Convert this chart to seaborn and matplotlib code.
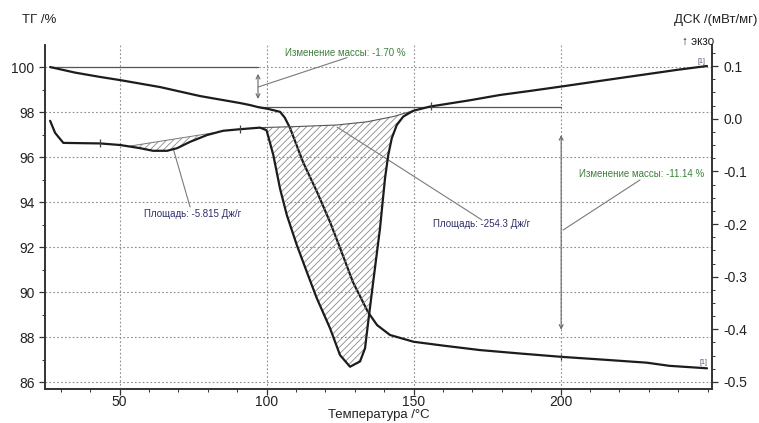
import numpy as np
import pandas as pd
import matplotlib
matplotlib.use("Agg")
import matplotlib.pyplot as plt
import seaborn as sns

# ---------------- data ----------------
tg_T = [26.4, 35.0, 43.4, 50.2, 63.8, 77.4, 91.0, 94.4, 97.1, 100.5, 104.6, 106.2,
        108.0, 112.4, 117.2, 121.6, 125.0, 129.4, 134.5, 137.6, 142.0, 150.0,
        160.0, 172.6, 186.0, 200.2, 215.0, 229.3, 237.0, 249.8]
tg_val = [100.0, 99.75, 99.56, 99.42, 99.11, 98.71, 98.40, 98.31, 98.22, 98.14,
          98.01, 97.75, 97.29, 95.78, 94.44, 93.11, 91.96, 90.44, 89.11, 88.53,
          88.09, 87.79, 87.62, 87.42, 87.27, 87.12, 86.99, 86.86, 86.72, 86.61]

dsc_T = [26.4, 28.1, 30.9, 43.4, 50.2, 57.0, 61.4, 66.2, 69.6, 74.0, 79.8, 85.2,
         91.0, 97.8, 100.0, 100.6, 102.3, 104.6, 106.9, 110.3, 113.7, 117.1,
         121.6, 125.0, 128.4, 131.8, 133.5, 134.6, 136.3, 138.6, 140.3, 141.4,
         142.6, 144.3, 146.5, 149.9, 155.6, 169.2, 179.4, 190.0, 200.2, 215.0,
         230.0, 240.0, 249.8]
dsc_val = [-0.004, -0.027, -0.046, -0.047, -0.050, -0.056, -0.061, -0.061, -0.056,
           -0.044, -0.031, -0.023, -0.020, -0.017, -0.022, -0.034, -0.069, -0.133,
           -0.183, -0.240, -0.291, -0.341, -0.398, -0.449, -0.471, -0.461, -0.436,
           -0.385, -0.309, -0.208, -0.113, -0.069, -0.037, -0.012, 0.004, 0.015,
           0.023, 0.035, 0.045, 0.053, 0.061, 0.073, 0.085, 0.093, 0.100]

# integration baselines
small_base_T = [53.6, 81.8]
small_base_val = [-0.052, -0.027]
big_base_T = [97.8, 110.0, 123.9, 134.1, 143.1, 149.9]
big_base_val = [-0.017, -0.015, -0.012, -0.006, 0.004, 0.015]

mass_change_1 = "Изменение массы: -1.70 %"
mass_change_2 = "Изменение массы: -11.14 %"
area_1 = "Площадь: -5.815 Дж/г"
area_2 = "Площадь: -254.3 Дж/г"

x_ticks = [50, 100, 150, 200]
tg_ticks = [86, 88, 90, 92, 94, 96, 98, 100]
dsc_ticks = [-0.5, -0.4, -0.3, -0.2, -0.1, 0.0, 0.1]

# ---------------- style ----------------
sns.set_theme(style="ticks")
plt.rcParams['font.family'] = ['Liberation Sans', 'DejaVu Sans']
plt.rcParams['hatch.color'] = '#8a8a8a'
plt.rcParams['hatch.linewidth'] = 0.6

W, H = 759, 423
fig = plt.figure(figsize=(W / 100, H / 100), dpi=100)
ax = fig.add_axes([45 / W, 1 - 389 / H, (712 - 45) / W, (389 - 45) / H])
ax2 = ax.twinx()

line_col = '#1c1c1c'
df_tg = pd.DataFrame({'T': tg_T, 'v': tg_val})
df_dsc = pd.DataFrame({'T': dsc_T, 'v': dsc_val})
sns.lineplot(data=df_tg, x='T', y='v', ax=ax, color=line_col, lw=1.6,
             sort=False, estimator=None, zorder=5)
sns.lineplot(data=df_dsc, x='T', y='v', ax=ax2, color=line_col, lw=1.6,
             sort=False, estimator=None, zorder=5)

ax.set_xlim(24.66, 251.5)
ax.set_ylim(85.69, 100.98)
ax2.set_ylim(-0.5133, 0.1399)

# hatched peak areas
def peak_poly(t0, t1, base_T, base_v):
    ct = [t for t in dsc_T if t0 < t < t1]
    cv = [v for t, v in zip(dsc_T, dsc_val) if t0 < t < t1]
    xs = [base_T[0]] + ct + list(base_T[::-1])
    ys = [base_v[0]] + cv + list(base_v[::-1])
    return xs, ys

xs, ys = peak_poly(small_base_T[0], small_base_T[-1], small_base_T, small_base_val)
ax2.fill(xs, ys, facecolor='none', edgecolor='#8a8a8a', hatch='/////', lw=0, zorder=2)
ax2.plot(small_base_T, small_base_val, color='#777777', lw=0.7, zorder=3)
xs, ys = peak_poly(big_base_T[0], big_base_T[-1], big_base_T, big_base_val)
ax2.fill(xs, ys, facecolor='none', edgecolor='#8a8a8a', hatch='/////', lw=0, zorder=2)
ax2.plot(big_base_T, big_base_val, color='#555555', lw=0.8, zorder=3)

# grid (dotted, from TG axis)
for yv in tg_ticks:
    ax.axhline(yv, color='#8c8c8c', lw=0.8, ls=(0, (1.5, 2)), zorder=0)
for xv in x_ticks:
    ax.axvline(xv, color='#8c8c8c', lw=0.8, ls=(0, (1.5, 2)), zorder=0)

# mass change reference lines and arrows
ax.plot([26.4, 97.1], [100.0, 100.0], color='#555555', lw=0.9, zorder=3)
ax.plot([97.1, 200.2], [98.22, 98.22], color='#555555', lw=0.9, zorder=3)
arrow_kw = dict(arrowstyle='<->', color='#666666', lw=0.8, mutation_scale=7)
ax.annotate('', xy=(97.1, 99.82), xytext=(97.1, 98.46), arrowprops=arrow_kw, zorder=4)
ax.annotate('', xy=(200.2, 97.1), xytext=(200.2, 88.2), arrowprops=arrow_kw, zorder=4)

# leader lines + texts
lead = dict(color='#7a7a7a', lw=0.8, zorder=4)
ax.plot([97.1, 127.4], [99.11, 100.42], **lead)
ax.text(126.8, 100.63, mass_change_1, fontsize=7, color='#3d7f3d',
        ha='center', va='center', zorder=6)
ax.plot([200.9, 227.0], [92.76, 94.98], **lead)
ax.text(227.4, 95.24, mass_change_2, fontsize=7, color='#3d7f3d',
        ha='center', va='center', zorder=6)
ax.plot([68.2, 74.0], [96.4, 93.78], **lead)
ax.text(74.7, 93.47, area_1, fontsize=7, color='#2f2f6b',
        ha='center', va='center', zorder=6)
ax.plot([124.0, 173.3], [97.33, 93.2], **lead)
ax.text(173.0, 93.02, area_2, fontsize=7, color='#2f2f6b',
        ha='center', va='center', zorder=6)

# small markers on the curves
ax2.plot([43.4, 91.0, 156.0], [-0.047, -0.020, 0.024], ls='none', marker='|',
         ms=6, mew=0.9, color='#444444', zorder=6)
ax.plot([200.2], [87.12], ls='none', marker='|', ms=5, mew=0.9, color='#444444', zorder=6)

# [1] labels
ax.text(248.5, 86.88, '[1]', fontsize=5, color='#555577', ha='center', va='center', zorder=6)
ax2.text(248.0, 0.108, '[1]', fontsize=5, color='#555577', ha='center', va='center', zorder=6)

# axes cosmetics
ax.set_xticks(x_ticks)
ax.set_yticks(tg_ticks)
ax.set_xticks(np.arange(30, 251, 10), minor=True)
ax.set_yticks(np.arange(87, 101, 2), minor=True)
ax2.set_yticks(dsc_ticks)
ax2.set_yticks(np.arange(-0.5, 0.13, 0.025), minor=True)
ax2.set_yticklabels(['-0.5', '-0.4', '-0.3', '-0.2', '-0.1', '0.0', '0.1'])
ax.set_ylabel('')
ax2.set_ylabel('')
ax.set_xlabel('Температура /°C', fontsize=9.5, color='#222222', va='center')
ax.xaxis.set_label_coords(0.5, -(414.5 - 389) / 344)

for a in (ax, ax2):
    a.spines['top'].set_visible(False)
    for s in ('left', 'right', 'bottom'):
        a.spines[s].set_color('#333333')
        a.spines[s].set_linewidth(1.2)
    a.tick_params(which='major', length=4, width=0.9, labelsize=10,
                  colors='#333333', labelcolor='#222222')
    a.tick_params(which='minor', length=2.5, width=0.7, colors='#333333')
ax.tick_params(axis='x', pad=0.5)
ax2.tick_params(axis='y', pad=4)

fig.text(22 / W, 1 - 20 / H, 'ТГ /%', fontsize=9.5, ha='left', va='center', color='#222222')
fig.text(757 / W, 1 - 20 / H, 'ДСК /(мВт/мг)', fontsize=9.5, ha='right', va='center',
         color='#222222')
fig.text(714 / W, 1 - 42 / H, '↑ экзо', fontsize=8.5, ha='right', va='center',
         color='#222222', family=['Liberation Sans', 'DejaVu Sans'])

fig.savefig('out.png', dpi=100)
